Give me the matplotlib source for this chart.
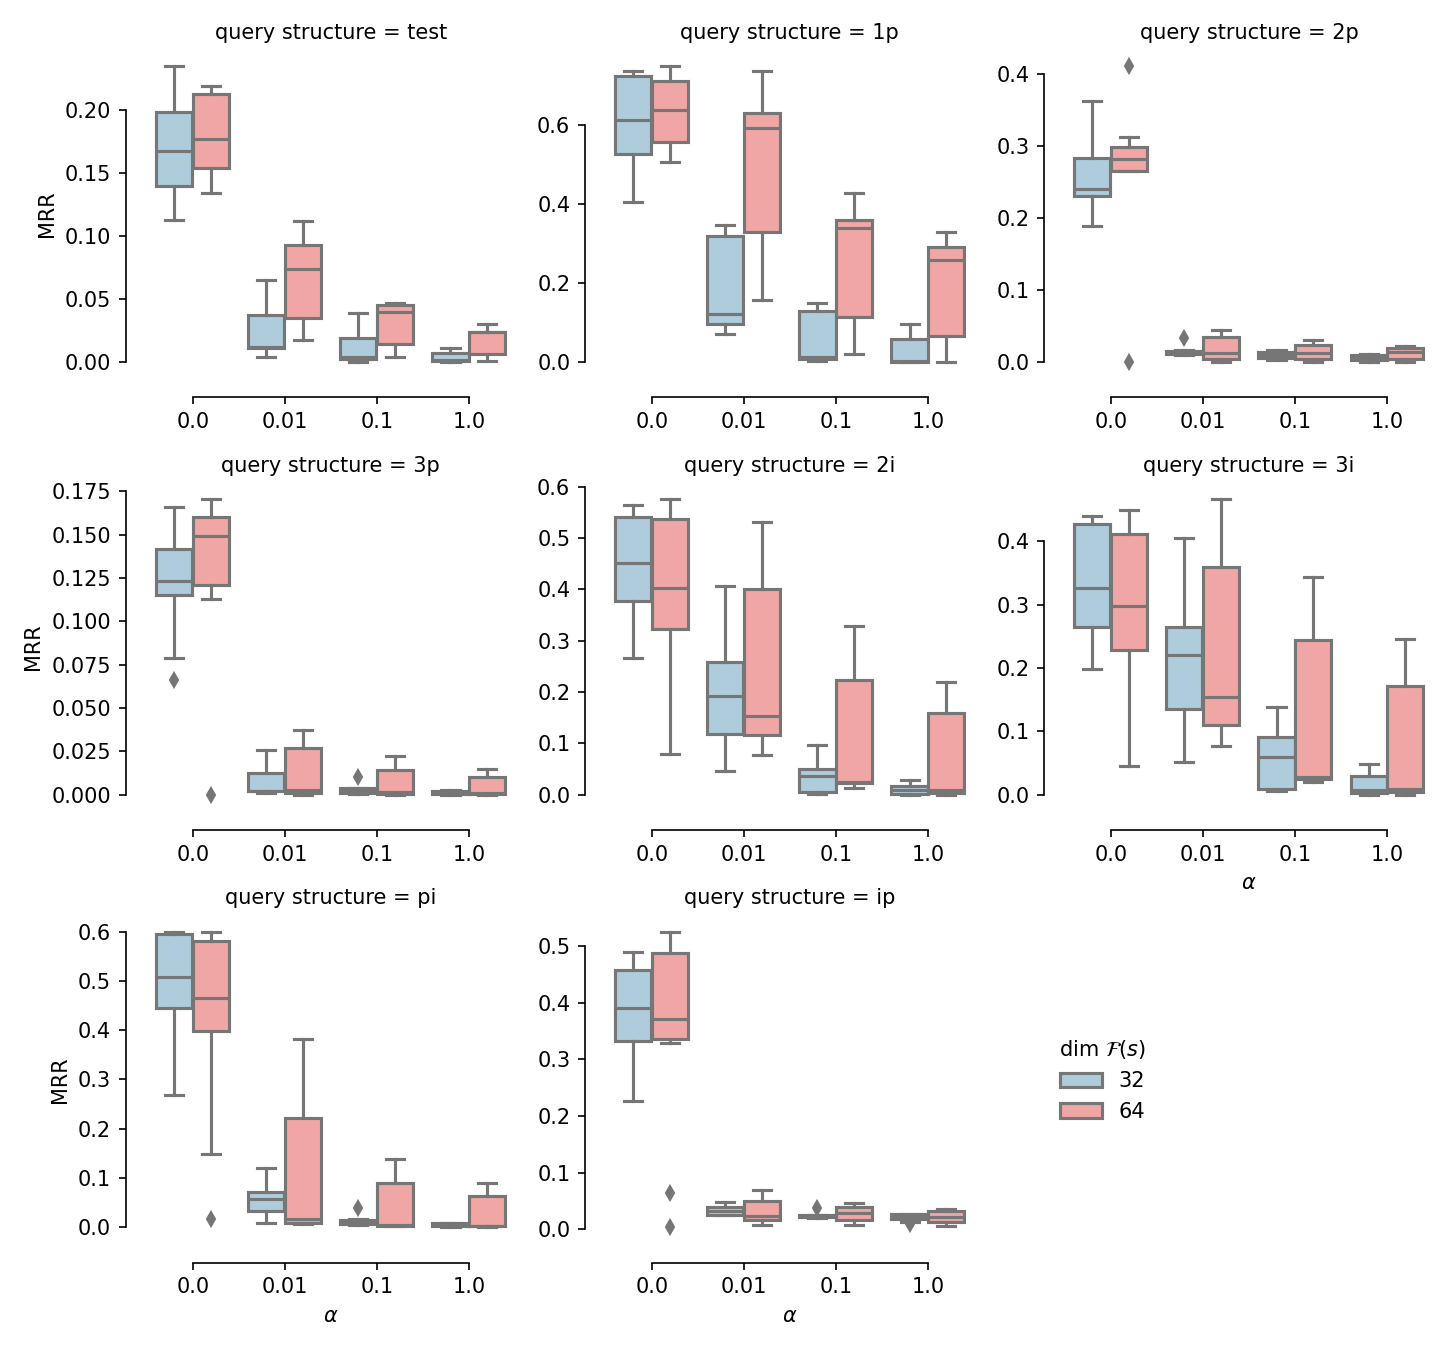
import colorsys

import matplotlib
matplotlib.use("Agg")
import matplotlib.pyplot as plt
import seaborn as sns
from matplotlib.patches import Patch
from matplotlib.ticker import MultipleLocator

structures = ["test", "1p", "2p", "3p", "2i", "3i", "pi", "ip"]
alphas = ["0.0", "0.01", "0.1", "1.0"]
dims = ["32", "64"]

# box statistics: [alpha][dim 32, dim 64]
whisker_low = {
    "test": [[0.113, 0.134], [0.004, 0.017], [0.000, 0.004], [0.000, 0.001]],
    "1p": [[0.404, 0.507], [0.070, 0.158], [0.002, 0.019], [0.000, 0.000]],
    "2p": [[0.189, 0.265], [0.009, 0.000], [0.003, 0.000], [0.000, 0.000]],
    "3p": [[0.079, 0.113], [0.001, 0.000], [0.0005, 0.000], [0.000, 0.000]],
    "2i": [[0.2655, 0.080], [0.045, 0.078], [0.001, 0.0137], [0.000, 0.000]],
    "3i": [[0.198, 0.0444], [0.052, 0.0766], [0.005, 0.0206], [0.000, 0.000]],
    "pi": [[0.2685, 0.149], [0.0095, 0.006], [0.004, 0.002], [0.000, 0.000]],
    "ip": [[0.2267, 0.329], [0.0248, 0.0083], [0.0195, 0.007], [0.012, 0.005]],
}
q1 = {
    "test": [[0.140, 0.154], [0.011, 0.035], [0.002, 0.014], [0.0005, 0.0064]],
    "1p": [[0.528, 0.556], [0.095, 0.329], [0.007, 0.113], [0.000, 0.065]],
    "2p": [[0.2306, 0.265], [0.011, 0.004], [0.006, 0.004], [0.002, 0.0034]],
    "3p": [[0.115, 0.121], [0.002, 0.001], [0.001, 0.0006], [0.0005, 0.0006]],
    "2i": [[0.377, 0.323], [0.118, 0.116], [0.0046, 0.0234], [0.002, 0.003]],
    "3i": [[0.264, 0.228], [0.135, 0.110], [0.0085, 0.024], [0.003, 0.004]],
    "pi": [[0.445, 0.398], [0.032, 0.0088], [0.006, 0.003], [0.002, 0.002]],
    "ip": [[0.332, 0.335], [0.0248, 0.017], [0.021, 0.016], [0.0177, 0.013]],
}
median = {
    "test": [[0.168, 0.177], [0.012, 0.074], [0.004, 0.040], [0.0013, 0.024]],
    "1p": [[0.612, 0.638], [0.121, 0.593], [0.013, 0.339], [0.002, 0.258]],
    "2p": [[0.241, 0.282], [0.013, 0.012], [0.010, 0.0125], [0.005, 0.014]],
    "3p": [[0.123, 0.149], [0.002, 0.0025], [0.002, 0.0017], [0.0012, 0.001]],
    "2i": [[0.451, 0.403], [0.193, 0.154], [0.036, 0.025], [0.0085, 0.0085]],
    "3i": [[0.3266, 0.2985], [0.220, 0.154], [0.059, 0.027], [0.007, 0.0085]],
    "pi": [[0.509, 0.466], [0.0576, 0.0176], [0.010, 0.005], [0.005, 0.003]],
    "ip": [[0.391, 0.371], [0.032, 0.023], [0.023, 0.029], [0.021, 0.022]],
}
q3 = {
    "test": [[0.199, 0.213], [0.037, 0.093], [0.019, 0.0455], [0.007, 0.024]],
    "1p": [[0.725, 0.713], [0.320, 0.631], [0.129, 0.360], [0.057, 0.292]],
    "2p": [[0.284, 0.2995], [0.015, 0.0347], [0.014, 0.024], [0.009, 0.0186]],
    "3p": [[0.142, 0.160], [0.0123, 0.027], [0.0035, 0.014], [0.002, 0.010]],
    "2i": [[0.541, 0.537], [0.258, 0.400], [0.049, 0.223], [0.0176, 0.158]],
    "3i": [[0.4275, 0.412], [0.264, 0.359], [0.091, 0.244], [0.030, 0.172]],
    "pi": [[0.5946, 0.582], [0.071, 0.222], [0.015, 0.090], [0.008, 0.064]],
    "ip": [[0.4575, 0.488], [0.0384, 0.050], [0.025, 0.0395], [0.026, 0.032]],
}
whisker_high = {
    "test": [[0.235, 0.219], [0.065, 0.112], [0.039, 0.047], [0.011, 0.030]],
    "1p": [[0.738, 0.749], [0.348, 0.736], [0.148, 0.429], [0.097, 0.330]],
    "2p": [[0.363, 0.313], [0.016, 0.045], [0.017, 0.031], [0.011, 0.022]],
    "3p": [[0.166, 0.1706], [0.0255, 0.037], [0.004, 0.022], [0.0025, 0.015]],
    "2i": [[0.564, 0.576], [0.406, 0.531], [0.096, 0.328], [0.029, 0.219]],
    "3i": [[0.4407, 0.450], [0.405, 0.467], [0.138, 0.3445], [0.048, 0.2457]],
    "pi": [[0.600, 0.600], [0.121, 0.383], [0.017, 0.139], [0.0095, 0.090]],
    "ip": [[0.489, 0.525], [0.048, 0.0685], [0.0255, 0.0455], [0.026, 0.0354]],
}
# outliers: (structure, alpha index, dim index) -> values
fliers = {
    ("2p", 0, 1): [0.411, 0.0],
    ("2p", 1, 0): [0.033],
    ("3p", 0, 0): [0.066],
    ("3p", 0, 1): [0.0],
    ("3p", 2, 0): [0.010],
    ("pi", 0, 1): [0.0176],
    ("pi", 2, 0): [0.039],
    ("ip", 0, 1): [0.064, 0.0035],
    ("ip", 2, 0): [0.037],
    ("ip", 3, 0): [0.009],
}

palette = [sns.desaturate(c, .75) for c in ["#a6cee3", "#fb9a99"]]
lum = min(colorsys.rgb_to_hls(*c)[1] for c in palette) * .6
gray = (lum, lum, lum)

fig, axes = plt.subplots(3, 3, figsize=(9.7, 9), dpi=150)
fig.subplots_adjust(left=0.1008, right=0.9849, bottom=0.08, top=0.9618,
                    wspace=0.2465, hspace=0.331)
axes = axes.flatten()

for k, s in enumerate(structures):
    ax = axes[k]
    for i in range(len(alphas)):
        for j in range(len(dims)):
            stats = dict(whislo=whisker_low[s][i][j], q1=q1[s][i][j],
                         med=median[s][i][j], q3=q3[s][i][j],
                         whishi=whisker_high[s][i][j],
                         fliers=fliers.get((s, i, j), []))
            ax.bxp([stats], positions=[i + (j - 0.5) * 0.4], widths=0.392,
                   patch_artist=True, manage_ticks=False,
                   boxprops=dict(facecolor=palette[j], edgecolor=gray, linewidth=1.5),
                   medianprops=dict(color=gray, linewidth=1.5),
                   whiskerprops=dict(color=gray, linewidth=1.5),
                   capprops=dict(color=gray, linewidth=1.5),
                   flierprops=dict(marker="d", markerfacecolor=gray, markeredgecolor=gray,
                                   markersize=5, linestyle="none"))
    ax.set_xlim(-0.5, 3.5)
    ax.set_xticks(range(len(alphas)))
    ax.set_xticklabels(alphas)
    ax.set_title(f"query structure = {s}", fontsize=10)
    if s == "3p":
        ax.yaxis.set_major_locator(MultipleLocator(0.025))
    if k % 3 == 0:
        ax.set_ylabel("MRR")
    if k >= 5:
        ax.set_xlabel(r"$\alpha$")

axes[8].remove()
sns.despine(fig=fig, offset=10, trim=True)

legend_element = [Patch(facecolor=palette[0], edgecolor=gray, linewidth=1.5, label=dims[0]),
                  Patch(facecolor=palette[1], edgecolor=gray, linewidth=1.5, label=dims[1])]
fig.legend(handles=legend_element, title=r"dim $\mathcal{F}(s)$", frameon=False,
           loc="upper left", bbox_to_anchor=(0.715, 0.245))

plt.savefig("out.png", dpi=150)
plt.close()
